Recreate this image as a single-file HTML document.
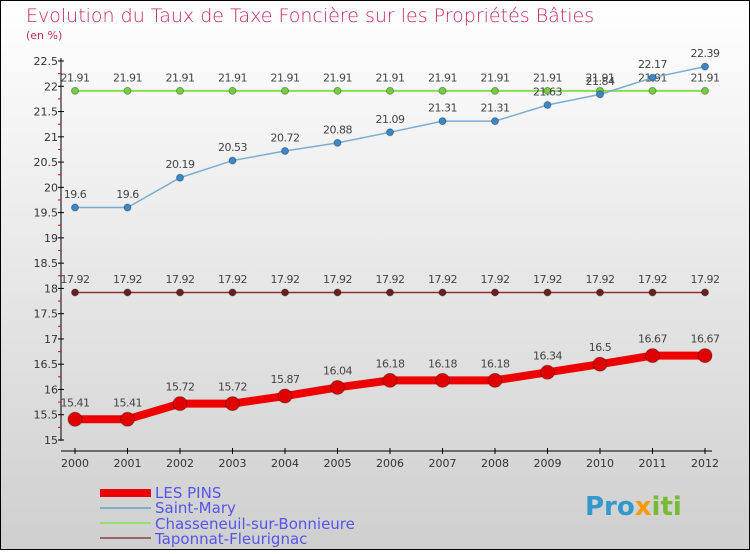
<!DOCTYPE html>
<html><head><meta charset="utf-8"><style>
html,body{margin:0;padding:0}
body{width:750px;height:550px;overflow:hidden;font-family:"DejaVu Sans","Liberation Sans",sans-serif}
</style></head><body>
<svg width="750" height="550" xmlns="http://www.w3.org/2000/svg">
<defs><linearGradient id="bg" x1="0" y1="0" x2="0" y2="1"><stop offset="0" stop-color="#ffffff"/><stop offset="1" stop-color="#cfcfcf"/></linearGradient></defs>
<rect x="0.5" y="0.5" width="749" height="549" fill="url(#bg)" stroke="#000"/>
<text x="26" y="22" font-size="19" fill="#c8285a" font-weight="300">Evolution du Taux de Taxe Foncière sur les Propriétés Bâties</text>
<text x="26" y="39" font-size="11" fill="#c8285a">(en %)</text>
<g id="axes"></g>
<g id="series"></g>
<g font-size="15" fill="#5555ee">
<rect x="100" y="489" width="51" height="8" fill="#ee0000"/>
<text x="155" y="498">LES PINS</text>
<rect x="100" y="507" width="51" height="2" fill="#7aaed0"/>
<text x="155" y="513">Saint-Mary</text>
<rect x="100" y="522" width="51" height="2" fill="#99dd77"/>
<text x="155" y="529">Chasseneuil-sur-Bonnieure</text>
<rect x="100" y="537" width="51" height="2" fill="#996666"/>
<text x="155" y="544">Taponnat-Fleurignac</text>
</g>
<text x="585" y="515" font-size="26" font-weight="bold" fill="#3399cc">Pro<tspan fill="#ff9900">x</tspan><tspan fill="#77bb33">iti</tspan></text>
</svg>
<script>
const years=["2000","2001","2002","2003","2004","2005","2006","2007","2008","2009","2010","2011","2012"];
const lesPins=[15.41,15.41,15.72,15.72,15.87,16.04,16.18,16.18,16.18,16.34,16.5,16.67,16.67];
const saintMary=[19.6,19.6,20.19,20.53,20.72,20.88,21.09,21.31,21.31,21.63,21.84,22.17,22.39];
const chasseneuil=[21.91,21.91,21.91,21.91,21.91,21.91,21.91,21.91,21.91,21.91,21.91,21.91,21.91];
const taponnat=[17.92,17.92,17.92,17.92,17.92,17.92,17.92,17.92,17.92,17.92,17.92,17.92,17.92];
const yTicks=[15,15.5,16,16.5,17,17.5,18,18.5,19,19.5,20,20.5,21,21.5,22,22.5];
const NS="http://www.w3.org/2000/svg";
const xs=i=>75+i*52.5;
const ys=v=>440-(v-15)*50.53;
function mk(tag,attrs,parent,txt){const e=document.createElementNS(NS,tag);for(const k in attrs)e.setAttribute(k,attrs[k]);if(txt!==undefined)e.textContent=txt;parent.appendChild(e);return e;}
const ax=document.getElementById('axes');
let e=mk('line',{x1:61,y1:58,x2:61,y2:441,stroke:'#000'},ax);


e=mk('line',{x1:61,y1:451,x2:712,y2:451,stroke:'#000'},ax);


yTicks.forEach((t,i)=>{
  const y=ys(t);
  mk('line',{x1:58,y1:y,x2:64,y2:y,stroke:'#000'},ax);
  if(i<yTicks.length-1) mk('line',{x1:58,y1:ys(t+0.25),x2:61,y2:ys(t+0.25),stroke:'#e00'},ax);
  e=mk('text',{x:58,y:y+4,'font-size':11,'text-anchor':'end',fill:'#333'},ax,String(t));
  
  
});
years.forEach((yr,i)=>{
  mk('line',{x1:xs(i),y1:448,x2:xs(i),y2:454,stroke:'#000'},ax);
  e=mk('text',{x:xs(i),y:467,'font-size':11,'text-anchor':'middle',fill:'#333'},ax,yr);
  
  
});
const sg=document.getElementById('series');
function draw(name,vals,color,dot,w,r){
  const g=mk('g',{},sg);
  
  
  mk('polyline',{points:vals.map((v,i)=>xs(i)+','+ys(v)).join(' '),fill:'none',stroke:color,'stroke-width':w},g);
  vals.forEach((v,i)=>{
    const c=mk('circle',{cx:xs(i),cy:ys(v),r:r,fill:dot,stroke:'rgba(0,0,0,0.3)'},g);
    
    
    const t=mk('text',{x:xs(i),y:ys(v)-(r+6),'font-size':11,'text-anchor':'middle',fill:'#444','letter-spacing':'-0.5'},g,String(v));
    
    
  });
}
draw('chasseneuil',chasseneuil,'#88dd55','#77cc44',2,3.5);
draw('saint-mary',saintMary,'#7aaed0','#3a88c8',1.5,3.5);
draw('taponnat',taponnat,'#883333','#662222',1.5,3.5);
draw('les-pins',lesPins,'#ee0000','#e00000',8,7);
</script>
</body></html>
